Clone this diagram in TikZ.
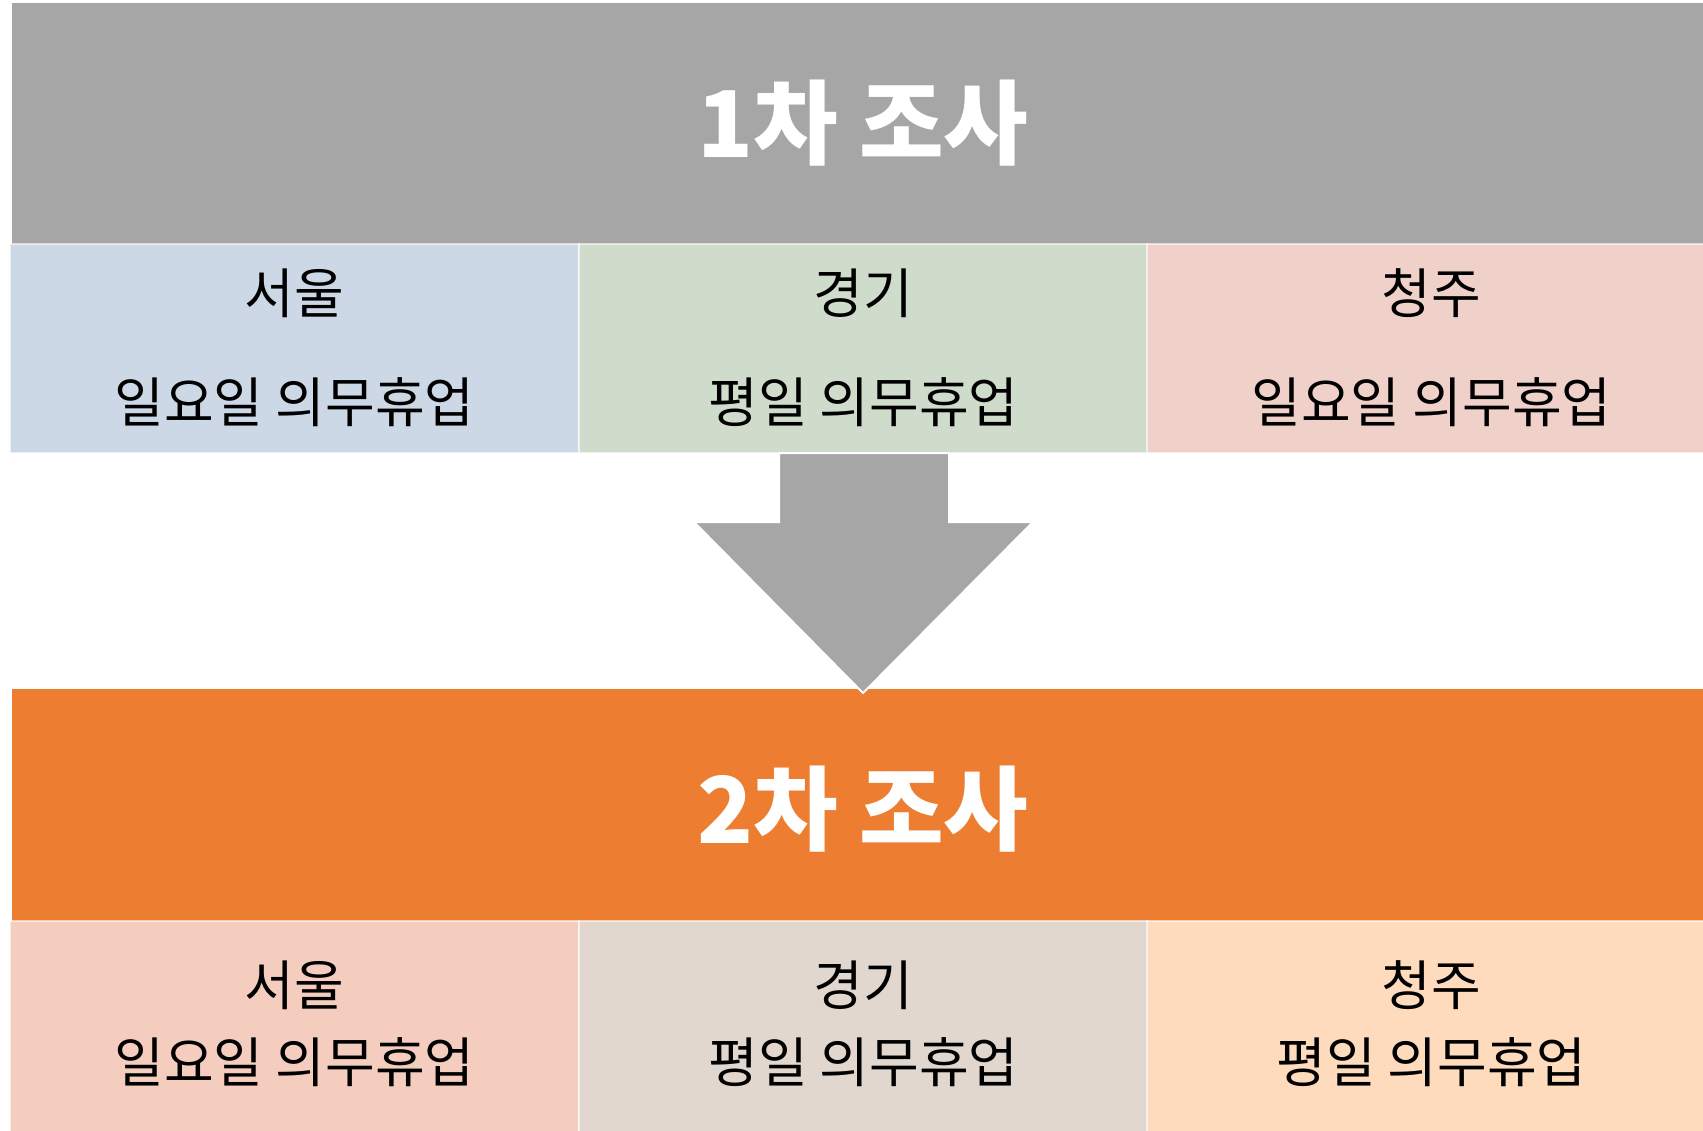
\documentclass[tikz,border=0pt]{standalone}
\usepackage{fontspec}
\setmainfont{Noto Sans CJK KR}
\usepackage{xcolor}
\definecolor{bandgray}{HTML}{A6A6A6}
\definecolor{bandorange}{HTML}{ED7D31}
\definecolor{cellblue}{HTML}{CDD8E6}
\definecolor{cellgreen}{HTML}{D0DCCB}
\definecolor{cellpink}{HTML}{F0D1C9}
\definecolor{cellsalmon}{HTML}{F5CDBE}
\definecolor{celltaupe}{HTML}{E1D7CE}
\definecolor{cellpeach}{HTML}{FDDBBC}
\tikzset{
  cellbox/.style={draw=white, draw opacity=.6, line width=1.5},
  celltext/.style={font=\fontsize{54}{60}\selectfont, text=black, inner sep=0},
  titletext/.style={font=\fontsize{92}{100}\selectfont\bfseries, text=white, inner sep=0}
}
\begin{document}
\begin{tikzpicture}[x=1pt,y=-1pt]
\useasboundingbox (0,0) rectangle (1703,1131);
\clip (0,0) rectangle (1703,1131);
% first survey
\fill[bandgray] (12,3) rectangle (1716,244);
\node[titletext] (survA) at (863,123) {1차 조사};
\foreach \x/\c/\n/\a/\b in {10/cellblue/seoulA/서울/일요일 의무휴업,
  579/cellgreen/gyeonggiA/경기/평일 의무휴업,
  1147/cellpink/cheongjuA/청주/일요일 의무휴업} {
 \filldraw[cellbox, fill=\c] (\x,244) rectangle ++(569,209);
 \node[celltext] (\n) at (\x+284.5,293) {\a};
 \node[celltext] (\n day) at (\x+284.5,402) {\b};
}
% second survey
\fill[bandorange] (12,689) rectangle (1716,921);
\node[titletext] (survB) at (863,809) {2차 조사};
\foreach \x/\c/\n/\a/\b in {10/cellsalmon/seoulB/서울/일요일 의무휴업,
  579/celltaupe/gyeonggiB/경기/평일 의무휴업,
  1147/cellpeach/cheongjuB/청주/평일 의무휴업} {
 \filldraw[cellbox, fill=\c] (\x,921) rectangle ++(569,215);
 \node[celltext] (\n) at (\x+284.5,985) {\a};
 \node[celltext] (\n day) at (\x+284.5,1062) {\b};
}
% block arrow
\filldraw[fill=bandgray, draw=white, line width=2, line join=miter]
  (779,453) -- (949,453) -- (949,522) -- (1033,522) -- (863,693)
  -- (694,522) -- (779,522) -- cycle;
\end{tikzpicture}
\end{document}
